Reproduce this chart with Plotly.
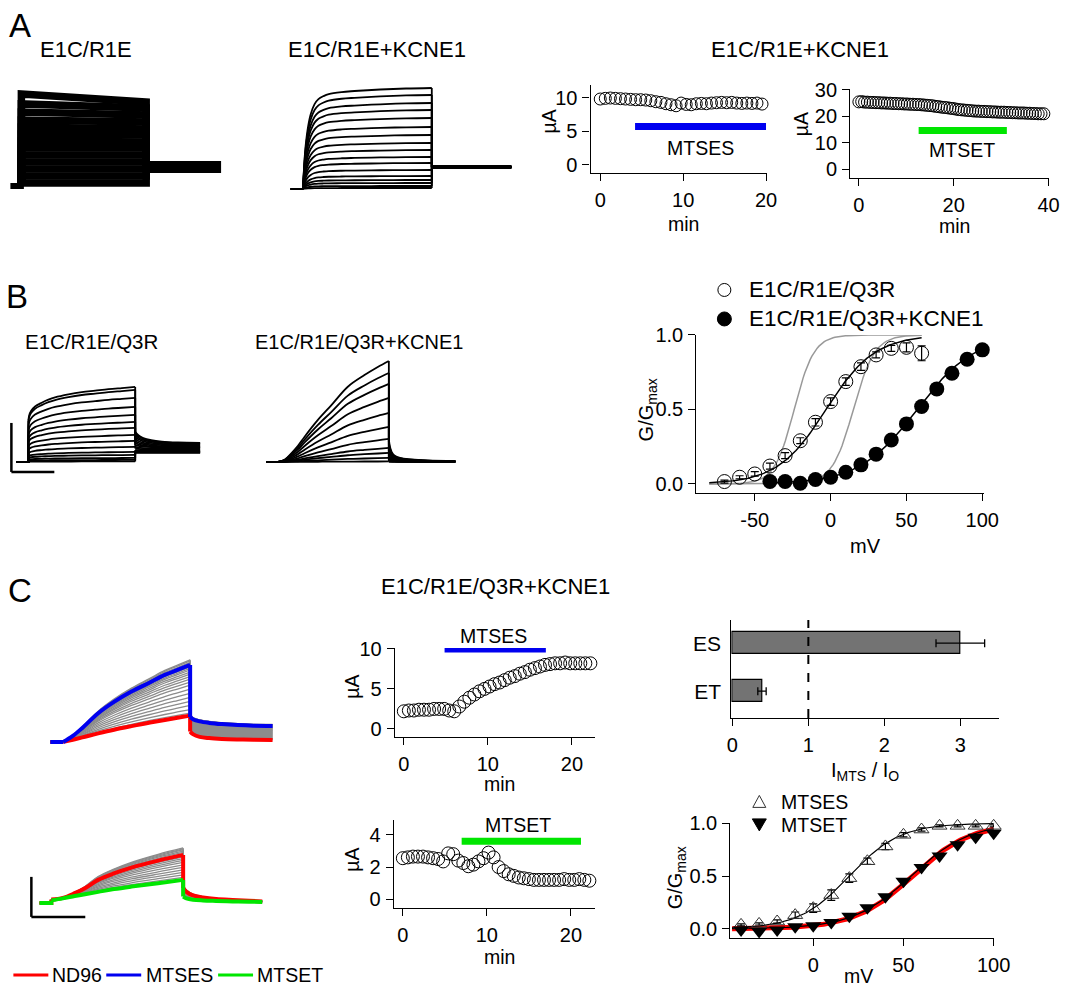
import plotly.graph_objects as go

# reference canvas size (pixels)
W, H = 1068, 987
# page -> photo calibration measured from earlier renders (photo = a + b * page)
CAL_AX, CAL_BX = 6.6, 0.982
CAL_AY, CAL_BY = 11.0, 0.986
FW, FH = 1082, 991          # figure size in page pixels (covers the photographed area)
FONT = "Liberation Sans, Arial, Helvetica, sans-serif"
BLUE = "#0000F0"
GREEN = "#00E600"
RED = "#FF0000"
GRAY = "#8C8C8C"
BARGRAY = "#737373"

# ======================= DATA =======================
# ---- A: E1C/R1E current sweeps (pulse start / end amplitude) ----
a1_start = [0.3, 1.0, 1.7, 2.4, 3.1, 3.8, 4.5, 5.2, 5.9, 6.6, 7.4, 8.2, 9.2]
a1_end = [0.3, 1.0, 1.7, 2.4, 3.1, 3.8, 4.4, 5.1, 5.7, 6.4, 7.1, 7.8, 8.4]
a1_tail = 1.9
# ---- A: E1C/R1E+KCNE1 sweeps ----
a2_levels = [10.1, 9.4, 8.6, 7.9, 7.1, 6.2, 5.4, 4.6, 3.9, 3.2, 2.6, 1.9, 1.3, 0.9, 0.6, 0.3, 0.1]
a2_shape_t = [0, 0.05, 0.1, 0.2, 0.3, 0.45, 0.6, 0.8, 1.0, 1.5, 2.0, 3.0, 4.0, 5.0]
a2_shape = [0, 0.25, 0.42, 0.62, 0.74, 0.84, 0.89, 0.92, 0.94, 0.96, 0.97, 0.985, 0.995, 1.0]
a2_tail = 2.2
# ---- A: time courses ----
a3_t = [0, 0.61, 1.22, 1.83, 2.44, 3.05, 3.66, 4.27, 4.88, 5.49, 6.1, 6.71, 7.32, 7.93, 8.54,
        9.15, 9.76, 10.37, 10.98, 11.59, 12.2, 12.81, 13.42, 14.03, 14.64, 15.25, 15.86, 16.47,
        17.08, 17.69, 18.3, 18.91, 19.52]
a3_i = [9.8, 9.9, 9.95, 9.9, 9.85, 9.8, 9.75, 9.7, 9.7, 9.65, 9.55, 9.4, 9.3, 9.1, 8.95, 8.8,
        9.2, 9.0, 8.95, 9.1, 9.15, 9.1, 9.2, 9.25, 9.3, 9.25, 9.3, 9.2, 9.15, 9.2, 9.15, 9.2, 9.05]
a3_bar_t = [4.2, 20.0]
a3_bar_i = [5.7, 5.7]
a4_t = [0, 0.6, 1.2, 1.8, 2.4, 3.0, 3.6, 4.2, 4.8, 5.4, 6.0, 6.6, 7.2, 7.8, 8.4, 9.0, 9.6, 10.2,
        10.8, 11.4, 12.0, 12.6, 13.2, 13.8, 14.4, 15.0, 15.6, 16.2, 16.8, 17.4, 18.0, 18.6, 19.2,
        19.8, 20.4, 21.0, 21.6, 22.2, 22.8, 23.4, 24.0, 24.6, 25.2, 25.8, 26.4, 27.0, 27.6, 28.2,
        28.8, 29.4, 30.0, 30.6, 31.2, 31.8, 32.4, 33.0, 33.6, 34.2, 34.8, 35.4, 36.0, 36.6, 37.2,
        37.8, 38.4, 39.0]
a4_i = [25.5, 25.6, 25.4, 25.4, 25.3, 25.3, 25.2, 25.2, 25.1, 25.1, 25.0,
        25.0, 24.9, 24.9, 24.8, 24.8, 24.7, 24.7, 24.6, 24.6, 24.5, 24.5,
        24.4, 24.3, 24.2, 24.1, 24.0, 23.8, 23.7, 23.5, 23.4, 23.3, 23.1,
        23.0, 22.8, 22.6, 22.5, 22.4, 22.3, 22.2, 22.1, 22.0, 22.0, 21.9,
        21.9, 21.8, 21.8, 21.7, 21.7, 21.6, 21.6, 21.6, 21.5, 21.5, 21.4,
        21.4, 21.3, 21.3, 21.3, 21.2, 21.2, 21.1, 21.1, 21.0, 21.0, 21.0]
a4_bar_t = [12.6, 31.2]
a4_bar_i = [14.7, 14.7]

# ---- B: E1C/R1E/Q3R sweeps ----
b1_levels = [7.5, 7.2, 6.4, 5.5, 4.7, 4.0, 3.4, 2.7, 2.1, 1.5, 1.0, 0.7, 0.4, 0.2, 0.05]
b1_shape_t = [0, 0.03, 0.1, 0.25, 0.5, 0.75, 1.0, 1.5, 2.0, 2.5, 3.0, 3.5, 4.0]
b1_shape = [0.55, 0.62, 0.68, 0.74, 0.79, 0.83, 0.86, 0.90, 0.93, 0.95, 0.97, 0.985, 1.0]
b1_tail0 = [3.0, 2.9, 2.7, 2.5, 2.3, 2.1, 1.9, 1.7, 1.5, 1.35, 1.2, 1.1, 1.0, 0.95, 0.9]
b1_tail_end = [1.9, 1.85, 1.8, 1.7, 1.6, 1.5, 1.45, 1.4, 1.3, 1.2, 1.1, 1.05, 1.0, 0.95, 0.9]
b1_tail_t = [4.0, 4.12, 4.3, 4.6, 5.0, 5.6, 6.43]
b1_tail_frac = [1, 0.7, 0.45, 0.25, 0.12, 0.04, 0]
# ---- B: E1C/R1E/Q3R+KCNE1 sweeps ----
b2_levels = [10.1, 8.9, 7.8, 6.4, 4.9, 3.5, 2.3, 1.4, 0.9, 0.4, 0.05]
b2_shape_t = [0, 0.25, 0.48, 0.72, 0.96, 1.44, 1.92, 2.52, 3.12, 3.6, 4.0]
b2_shape = [0, 0.025, 0.086, 0.16, 0.25, 0.416, 0.56, 0.745, 0.86, 0.94, 1.0]
b2_tail_t = [4.0, 4.04, 4.1, 4.2, 4.4, 4.8, 5.4, 6.4]
b2_tail_frac = [0.22, 0.15, 0.1, 0.065, 0.04, 0.025, 0.015, 0.01]
# ---- B: G-V ----
gv_b_v1 = [-70, -60, -50, -40, -30, -20, -10, 0, 10, 20, 30, 40, 50, 60]
gv_b_g1 = [0.016, 0.045, 0.067, 0.12, 0.19, 0.29, 0.414, 0.553, 0.687, 0.787, 0.866, 0.91, 0.917, 0.877]
gv_b_e1 = [0.01, 0.01, 0.015, 0.02, 0.02, 0.02, 0.025, 0.025, 0.025, 0.025, 0.02, 0.02, 0.03, 0.05]
gv_b_v2 = [-40, -30, -20, -10, 0, 10, 20, 30, 40, 50, 60, 70, 80, 90, 100]
gv_b_g2 = [0.016, 0.016, 0.005, 0.03, 0.045, 0.078, 0.128, 0.2, 0.295, 0.403, 0.52, 0.638, 0.743, 0.837, 0.9]
gv_b_ticks = [-50, 0, 50, 100]
gv_b_ticktext = ["-50", "0", "50", "100"]
# Boltzmann fit parameters: (V1/2, slope k, Vstart, Vend)
fit_b_q3r = (-3, 16, -80, 60)
fit_b_kcne1 = (57, 19, -40, 100)
fit_b_gray = [(-24, 6.5, -80, 60), (15, 7, -80, 60)]

# ---- C: sweeps during MTSES (top) ----
c1_t = [0, 0.3, 0.6, 1.1, 1.6, 2.15, 2.7, 3.2, 3.6, 4.0]
c1_blue = [0, 0.6, 1.4, 2.87, 4.0, 5.03, 5.9, 6.7, 7.2, 7.7]
c1_red = [0, 0.22, 0.45, 0.85, 1.22, 1.58, 1.92, 2.2, 2.42, 2.63]
c1_gray_mix = [0.05, 0.12, 0.2, 0.28, 0.36, 0.44, 0.52, 0.6, 0.66, 0.72, 0.77, 0.82, 0.86,
               0.9, 0.93, 0.96, 0.99, 1.02, 1.05, 1.08, 1.1]
c1_tail_t = [4.0, 4.1, 4.3, 4.6, 5.0, 5.5, 6.0, 6.6]
c1_blue_tail = [2.5, 2.25, 2.05, 1.9, 1.78, 1.68, 1.62, 1.6]
c1_red_tail = [1.03, 0.75, 0.5, 0.38, 0.3, 0.25, 0.22, 0.2]
# ---- C: sweeps during MTSET (bottom) ----
c2_t = [0, 0.35, 0.71, 1.02, 1.42, 1.9, 2.43, 3.24, 4.0]
c2_red = [0.33, 0.5, 0.97, 1.47, 2.3, 2.95, 3.53, 4.23, 4.8]
c2_green = [0.25, 0.45, 0.68, 0.87, 1.1, 1.38, 1.63, 1.97, 2.3]
c2_gray_mix = [0.1, 0.2, 0.3, 0.4, 0.5, 0.6, 0.7, 0.78, 0.85, 0.92, 0.98, 1.04, 1.1, 1.15,
               1.2, 1.24, 1.28]
c2_tail_t = [4.0, 4.1, 4.3, 4.6, 5.0, 5.5, 6.0, 6.4]
c2_red_tail = [1.5, 1.1, 0.75, 0.55, 0.4, 0.3, 0.22, 0.15]
c2_green_tail = [0.63, 0.45, 0.32, 0.25, 0.2, 0.15, 0.12, 0.1]
# ---- C: time courses ----
c3_t = [0, 0.6, 1.2, 1.8, 2.4, 3.0, 3.6, 4.2, 4.8, 5.4, 6.0, 6.6, 7.2, 7.8, 8.4, 9.0, 9.6,
        10.2, 10.8, 11.4, 12.0, 12.6, 13.2, 13.8, 14.4, 15.0, 15.6, 16.2, 16.8, 17.4, 18.0,
        18.6, 19.2, 19.8, 20.4, 21.0, 21.6, 22.2, 22.8]
c3_i = [2.2, 2.3, 2.3, 2.4, 2.4, 2.4, 2.5, 2.5, 2.5, 2.3, 2.2, 2.8, 3.4, 3.9, 4.3, 4.7, 5.0,
        5.3, 5.6, 5.8, 6.1, 6.4, 6.6, 6.9, 7.1, 7.4, 7.6, 7.8, 8.0, 8.1, 8.2, 8.2, 8.3, 8.2,
        8.2, 8.2, 8.2, 8.2, 8.3]
c3_bar_t = [4.85, 16.9]
c3_bar_i = [10.0, 10.0]
c4_t = [0, 0.6, 1.2, 1.8, 2.4, 3.0, 3.6, 4.2, 4.8, 5.4, 6.0, 6.6, 7.2, 7.8, 8.4, 9.0, 9.6,
        10.2, 10.8, 11.4, 12.0, 12.6, 13.2, 13.8, 14.4, 15.0, 15.6, 16.2, 16.8, 17.4, 18.0,
        18.6, 19.2, 19.8, 20.4, 21.0, 21.6, 22.2]
c4_i = [2.55, 2.6, 2.65, 2.65, 2.65, 2.6, 2.55, 2.5, 2.35, 2.85, 2.8, 2.4, 2.25, 2.05, 2.15,
        2.35, 2.55, 2.9, 2.6, 2.0, 1.75, 1.55, 1.45, 1.35, 1.3, 1.25, 1.2, 1.2, 1.2, 1.2, 1.2,
        1.2, 1.25, 1.2, 1.2, 1.25, 1.2, 1.15]
c4_bar_t = [7.0, 21.2]
c4_bar_i = [3.6, 3.6]
# ---- C: bar chart ----
bar_labels = ["ES", "ET"]
bar_pos = [1, 0]
bar_vals = [3.0, 0.39]
bar_errs = [0.32, 0.055]
# ---- C: G-V ----
gv_c_v = [-40, -30, -20, -10, 0, 10, 20, 30, 40, 50, 60, 70, 80, 90, 100]
gv_c_es = [0.038, 0.047, 0.07, 0.13, 0.196, 0.32, 0.48, 0.64, 0.78, 0.89, 0.94, 0.975, 0.975, 0.975, 0.975]
gv_c_es_err = [0.01, 0.01, 0.015, 0.03, 0.04, 0.05, 0.04, 0.03, 0.03, 0.02, 0.015, 0.01, 0.01, 0.01, 0.01]
gv_c_et = [-0.01, -0.025, -0.01, 0.02, 0.03, 0.06, 0.12, 0.2, 0.305, 0.45, 0.58, 0.69, 0.795, 0.867, 0.905]
fit_c_es = (20, 14, -45, 100)
fit_c_et = (54, 16, -45, 100)
fit_c_nd96 = (55, 16, -45, 100)

# ======================= HELPERS =======================
fig = go.Figure()
layout = {}
shapes = []
annotations = []
TICK = 20


def fx(x):
    """reference x pixel -> paper fraction"""
    return ((x - CAL_AX) / CAL_BX) / FW


def fy(y):
    """reference y pixel -> paper fraction"""
    return 1 - ((y - CAL_AY) / CAL_BY) / FH


def lin(p0, v0, p1, v1, p):
    return v0 + (p - p0) * (v1 - v0) / (p1 - p0)


def ids(i):
    return ("x" if i == 1 else f"x{i}"), ("y" if i == 1 else f"y{i}")


AXSTYLE = dict(showline=True, linecolor="black", linewidth=1.3, ticks="outside", ticklen=7,
               tickwidth=1.3, tickcolor="black", showgrid=False, zeroline=False,
               tickfont=dict(family=FONT, size=TICK, color="black"))


def add_axes(i, box, xr, yr, visible=True, xkw=None, ykw=None):
    x0, x1, y0, y1 = box
    xid, yid = ids(i)
    xa = dict(domain=[fx(x0), fx(x1)], range=xr, anchor=yid, fixedrange=True)
    ya = dict(domain=[fy(y1), fy(y0)], range=yr, anchor=xid, fixedrange=True)
    if visible:
        xa.update(AXSTYLE, ticklabelstandoff=2)
        ya.update(AXSTYLE, ticklabelstandoff=1)
    else:
        xa.update(visible=False)
        ya.update(visible=False)
    if xkw:
        xa.update(xkw)
    if ykw:
        ya.update(ykw)
    layout["xaxis" if i == 1 else f"xaxis{i}"] = xa
    layout["yaxis" if i == 1 else f"yaxis{i}"] = ya
    return xid, yid


def trace_axes(i, box, t0, sx, base, sy):
    x0, x1, y0, y1 = box
    return add_axes(i, box, [(x0 - t0) / sx, (x1 - t0) / sx], [(base - y1) / sy, (base - y0) / sy],
                    visible=False)


def ref_axes(i, box, xref, yref, **kw):
    x0, x1, y0, y1 = box
    (px0, vx0), (px1, vx1) = xref
    (py0, vy0), (py1, vy1) = yref
    xr = [lin(px0, vx0, px1, vx1, x0), lin(px0, vx0, px1, vx1, x1)]
    yr = [lin(py0, vy0, py1, vy1, y1), lin(py0, vy0, py1, vy1, y0)]
    return add_axes(i, box, xr, yr, **kw)


def line(xa, ya, x, y, color="black", width=1.5, shape="linear", fill=None, fillcolor=None):
    fig.add_trace(go.Scatter(x=x, y=y, xaxis=xa, yaxis=ya, mode="lines",
                             line=dict(color=color, width=width, shape=shape),
                             fill=fill, fillcolor=fillcolor, showlegend=False,
                             hoverinfo="skip", cliponaxis=False))


def sweep(xa, ya, t_pre, p_t, p_y, tl_t, tl_y, color="black", width=1.8, y_pre=0):
    """baseline -> pulse (smooth) -> step -> tail (smooth)."""
    line(xa, ya, [t_pre, p_t[0], p_t[0]], [y_pre, y_pre, p_y[0]], color=color, width=width)
    line(xa, ya, p_t, p_y, color=color, width=width, shape="spline")
    line(xa, ya, [p_t[-1], tl_t[0]], [p_y[-1], tl_y[0]], color=color, width=width)
    line(xa, ya, tl_t, tl_y, color=color, width=width, shape="spline")


def txt(s, x, y, size=22, xanchor="center", yanchor="middle", angle=0, color="black"):
    annotations.append(dict(text=s, x=fx(x), y=fy(y), xref="paper", yref="paper",
                            showarrow=False, xanchor=xanchor, yanchor=yanchor, textangle=angle,
                            font=dict(family=FONT, size=size, color=color)))


def pline(x0, y0, x1, y1, color="black", width=2.5, dash=None):
    shapes.append(dict(type="line", xref="paper", yref="paper", x0=fx(x0), x1=fx(x1),
                       y0=fy(y0), y1=fy(y1), line=dict(color=color, width=width, dash=dash)))


def boltz(p, n=120):
    vh, k, va, vb = p
    vs = [va + (vb - va) * j / n for j in range(n + 1)]
    return vs, [1 / (1 + 2.718281828 ** (-(v - vh) / k)) for v in vs]


def mix(a, b, w):
    return [ai + w * (bi - ai) for ai, bi in zip(a, b)]


# ======================= PANEL A =======================
xa, ya = trace_axes(1, (10, 228, 85, 195), t0=23, sx=25.0, base=186, sy=10.0)
line(xa, ya, [-0.44, 0.1], [0, 0], width=6)
line(xa, ya, [5.0, 8.0], [a1_tail, a1_tail], width=12)
for s, e in zip(a1_start, a1_end):
    line(xa, ya, [0, 0, 5, 5], [0, s, e, a1_tail], width=7.5)

xa, ya = trace_axes(2, (285, 520, 80, 195), t0=305, sx=25.8, base=189, sy=10.0)
for L in a2_levels:
    sweep(xa, ya, -0.47, a2_shape_t, [L * s for s in a2_shape], [5.0, 8.1], [a2_tail, a2_tail])
line(xa, ya, [5.0, 8.1], [a2_tail, a2_tail], width=4)

# A time course 1 (MTSES)
xa, ya = ref_axes(3, (593, 770, 85, 173), ((602.7, 0), (685.7, 10)), ((165, 0), (97.7, 10)),
                  xkw=dict(tickvals=[0, 10, 20]), ykw=dict(tickvals=[0, 5, 10]))
fig.add_trace(go.Scatter(x=a3_t, y=a3_i, xaxis=xa, yaxis=ya, mode="markers", cliponaxis=False,
                         marker=dict(symbol="circle-open", size=12, color="black",
                                     line=dict(width=1)), showlegend=False))
line(xa, ya, a3_bar_t, a3_bar_i, color=BLUE, width=7)

# A time course 2 (MTSET)
xa, ya = ref_axes(4, (853, 1052, 89, 178), ((861.7, 0), (956.7, 20)), ((169.3, 0), (90, 30)),
                  xkw=dict(tickvals=[0, 20, 40]), ykw=dict(tickvals=[0, 10, 20, 30]))
fig.add_trace(go.Scatter(x=a4_t, y=a4_i, xaxis=xa, yaxis=ya, mode="markers", cliponaxis=False,
                         marker=dict(symbol="circle-open", size=12, color="black",
                                     line=dict(width=1)), showlegend=False))
line(xa, ya, a4_bar_t, a4_bar_i, color=GREEN, width=7)

# ======================= PANEL B =======================
xa, ya = trace_axes(5, (10, 210, 375, 480), t0=30, sx=26.75, base=462, sy=10.0)
for L, t0v, tev in zip(b1_levels, b1_tail0, b1_tail_end):
    sweep(xa, ya, -0.45, b1_shape_t, [L * s for s in b1_shape],
          b1_tail_t, [tev + (t0v - tev) * f for f in b1_tail_frac])

xa, ya = trace_axes(6, (260, 465, 350, 475), t0=280, sx=27.75, base=462, sy=10.0)
for L in b2_levels:
    sweep(xa, ya, -0.43, b2_shape_t, [L * s for s in b2_shape],
          b2_tail_t, [L * f for f in b2_tail_frac])

# B G-V
xa, ya = ref_axes(7, (699, 987, 335, 493), ((833.4, 0), (985.3, 100)), ((484, 0), (335, 1)),
                  xkw=dict(tickvals=gv_b_ticks, ticktext=gv_b_ticktext),
                  ykw=dict(tickvals=[0, 0.5, 1.0], tickformat=".1f"))
for p in fit_b_gray:
    vx, gy = boltz(p)
    line(xa, ya, vx, gy, color="#999999", width=1.5)
vx, gy = boltz(fit_b_q3r)
line(xa, ya, vx, gy, color="black", width=1.5)
vx, gy = boltz(fit_b_kcne1)
line(xa, ya, vx, gy, color="black", width=1.5)
fig.add_trace(go.Scatter(x=gv_b_v1, y=gv_b_g1, xaxis=xa, yaxis=ya, mode="markers", cliponaxis=False,
                         error_y=dict(type="data", array=gv_b_e1, color="black", thickness=1.2, width=4),
                         marker=dict(symbol="circle-open", size=14, color="black", line=dict(width=1)),
                         showlegend=False))
fig.add_trace(go.Scatter(x=gv_b_v2, y=gv_b_g2, xaxis=xa, yaxis=ya, mode="markers", cliponaxis=False,
                         marker=dict(symbol="circle", size=15, color="black"), showlegend=False))

# ======================= PANEL C =======================
xa, ya = trace_axes(8, (45, 275, 650, 750), t0=65, sx=31.75, base=742, sy=10.0)
for w in c1_gray_mix:
    sweep(xa, ya, -0.41, c1_t, mix(c1_red, c1_blue, w), c1_tail_t,
          mix(c1_red_tail, c1_blue_tail, w), color=GRAY, width=1.3)
line(xa, ya, c1_tail_t, c1_red_tail, color=GRAY, width=1)
line(xa, ya, c1_tail_t, mix(c1_red_tail, c1_blue_tail, 1.1), color=GRAY, width=1,
     fill="tonexty", fillcolor=GRAY)
sweep(xa, ya, -0.41, c1_t, c1_red, c1_tail_t, c1_red_tail, color=RED, width=4)
sweep(xa, ya, -0.41, c1_t, c1_blue, c1_tail_t, c1_blue_tail, color=BLUE, width=4)

xa, ya = trace_axes(9, (35, 272, 840, 912), t0=53, sx=33.0, base=903, sy=10.0)
for w in c2_gray_mix:
    sweep(xa, ya, -0.36, c2_t, mix(c2_green, c2_red, w), c2_tail_t,
          mix(c2_green_tail, c2_red_tail, w), color=GRAY, width=1.3)
sweep(xa, ya, -0.36, c2_t, c2_red, c2_tail_t, c2_red_tail, color=RED, width=4)
sweep(xa, ya, -0.36, c2_t, c2_green, c2_tail_t, c2_green_tail, color=GREEN, width=4)

# C time course (MTSES)
xa, ya = ref_axes(10, (397, 597, 648, 737), ((406, 0), (574.3, 20)), ((729, 0), (649, 10)),
                  xkw=dict(tickvals=[0, 10, 20]), ykw=dict(tickvals=[0, 5, 10]))
fig.add_trace(go.Scatter(x=c3_t, y=c3_i, xaxis=xa, yaxis=ya, mode="markers", cliponaxis=False,
                         marker=dict(symbol="circle-open", size=13, color="black",
                                     line=dict(width=1)), showlegend=False))
line(xa, ya, c3_bar_t, c3_bar_i, color=BLUE, width=7)

# C time course (MTSET)
xa, ya = ref_axes(11, (396, 597, 820, 908), ((405, 0), (573.3, 20)), ((899.3, 0), (835, 4)),
                  xkw=dict(tickvals=[0, 10, 20]), ykw=dict(tickvals=[0, 2, 4]))
fig.add_trace(go.Scatter(x=c4_t, y=c4_i, xaxis=xa, yaxis=ya, mode="markers", cliponaxis=False,
                         marker=dict(symbol="circle-open", size=13, color="black",
                                     line=dict(width=1)), showlegend=False))
line(xa, ya, c4_bar_t, c4_bar_i, color=GREEN, width=7)

# C bar chart
xa, ya = ref_axes(12, (734, 1002, 620, 718), ((735, 0), (963.3, 3)), ((691.3, 0), (643.3, 1)),
                  xkw=dict(tickvals=[0, 1, 2, 3]),
                  ykw=dict(tickvals=bar_pos, ticktext=bar_labels, ticks="", ticklabelstandoff=5,
                           tickfont=dict(family=FONT, size=21, color="black")))
fig.add_trace(go.Bar(x=bar_vals, y=bar_pos, orientation="h", xaxis=xa, yaxis=ya, width=0.46,
                     marker=dict(color=BARGRAY, line=dict(color="black", width=1.2)),
                     error_x=dict(type="data", array=bar_errs, color="black", thickness=1.3, width=4),
                     showlegend=False, hoverinfo="skip"))
shapes.append(dict(type="line", xref=xa, yref="paper", x0=1, x1=1, y0=fy(718), y1=fy(620),
                   line=dict(color="black", width=2, dash="dash"), layer="above"))

# C G-V
xa, ya = ref_axes(13, (733, 997, 823, 938), ((816, 0), (996.7, 100)), ((929, 0), (823.3, 1)),
                  xkw=dict(tickvals=[0, 50, 100]),
                  ykw=dict(tickvals=[0, 0.5, 1.0], tickformat=".1f"))
vx, gy = boltz(fit_c_nd96)
line(xa, ya, vx, gy, color=RED, width=5)
vx, gy = boltz(fit_c_et)
line(xa, ya, vx, gy, color="black", width=1.2)
vx, gy = boltz(fit_c_es)
line(xa, ya, vx, gy, color="black", width=1.2)
fig.add_trace(go.Scatter(x=gv_c_v, y=gv_c_es, xaxis=xa, yaxis=ya, mode="markers", cliponaxis=False,
                         error_y=dict(type="data", array=gv_c_es_err, color="black", thickness=1.2, width=4),
                         marker=dict(symbol="triangle-up-open", size=13, color="#333333",
                                     line=dict(width=1)), showlegend=False))
fig.add_trace(go.Scatter(x=gv_c_v, y=gv_c_et, xaxis=xa, yaxis=ya, mode="markers", cliponaxis=False,
                         marker=dict(symbol="triangle-down", size=14, color="black"),
                         showlegend=False))

# ======================= TEXT / DECORATION =======================
txt("A", 22, 26, size=33)
txt("B", 19, 297, size=33)
txt("C", 22, 591, size=33)
txt("E1C/R1E", 88, 50, size=22)
txt("E1C/R1E+KCNE1", 379, 50, size=22)
txt("E1C/R1E+KCNE1", 803, 50, size=22)
txt("E1C/R1E/Q3R", 93, 342, size=20.5)
txt("E1C/R1E/Q3R+KCNE1", 361, 342, size=20)
txt("E1C/R1E/Q3R+KCNE1", 498, 587, size=22)

txt("MTSES", 703, 148, size=19.5)
txt("MTSET", 965, 150, size=19.5)
txt("µA", 551, 122, size=19.5, angle=-90)
txt("min", 686, 224, size=19.5)
txt("µA", 804, 124, size=19.5, angle=-90)
txt("min", 957, 226, size=19.5)

txt("MTSES", 496, 636, size=19.5)
txt("MTSET", 520, 825, size=19.5)
txt("µA", 354, 687, size=19.5, angle=-90)
txt("min", 502, 784, size=19.5)
txt("µA", 354, 860, size=19.5, angle=-90)
txt("min", 502, 957, size=19.5)

txt("G/G<sub>max</sub>", 650, 410, size=20, angle=-90)
txt("mV", 868, 546, size=20)
txt("E1C/R1E/Q3R", 750, 290, size=22.5, xanchor="left")
txt("E1C/R1E/Q3R+KCNE1", 750, 319, size=22.5, xanchor="left")
shapes.append(dict(type="circle", xref="paper", yref="paper", x0=fx(727 - 6.5), x1=fx(727 + 6.5),
                   y0=fy(290 + 6.5), y1=fy(290 - 6.5), line=dict(color="black", width=1)))
shapes.append(dict(type="circle", xref="paper", yref="paper", x0=fx(727 - 7), x1=fx(727 + 7),
                   y0=fy(319 + 7), y1=fy(319 - 7), fillcolor="black",
                   line=dict(color="black", width=1)))

txt("I<sub>MTS</sub> / I<sub>O</sub>", 868, 772, size=20)

txt("G/G<sub>max</sub>", 679, 878, size=20, angle=-90)
txt("mV", 861, 976, size=19.5)
txt("MTSES", 782, 802, size=19.5, xanchor="left")
txt("MTSET", 782, 825, size=19.5, xanchor="left")


def tri_path(pts):
    return "M " + " L ".join(f"{fx(x):.5f} {fy(y):.5f}" for x, y in pts) + " Z"


shapes.append(dict(type="path", xref="paper", yref="paper",
                   path=tri_path([(762, 795.5), (755.5, 807.5), (768.5, 807.5)]),
                   line=dict(color="#333333", width=1)))
shapes.append(dict(type="path", xref="paper", yref="paper",
                   path=tri_path([(755, 819), (769, 819), (762, 831)]),
                   fillcolor="black", line=dict(color="black", width=1)))

# scale bars
pline(13, 423, 13, 472)
pline(13, 472, 56, 472)
pline(33, 877, 33, 917)
pline(33, 917, 87, 917)

# legend at bottom of C
pline(15, 975, 50, 975, color=RED, width=3)
txt("ND96", 52, 975, size=19.5, xanchor="left")
pline(108, 975, 143, 975, color=BLUE, width=3)
txt("MTSES", 146, 975, size=19.5, xanchor="left")
pline(220, 975, 255, 975, color=GREEN, width=3)
txt("MTSET", 257, 975, size=19.5, xanchor="left")

layout.update(width=FW, height=FH, margin=dict(l=0, r=0, t=0, b=0), paper_bgcolor="white",
              plot_bgcolor="rgba(0,0,0,0)", shapes=shapes, annotations=annotations,
              showlegend=False, font=dict(family=FONT, color="black"), bargap=0)
fig.update_layout(**layout)
fig.write_html("out.html", config={"displayModeBar": False},
               post_script="document.body.style.margin='0';document.body.style.overflow='hidden';")
